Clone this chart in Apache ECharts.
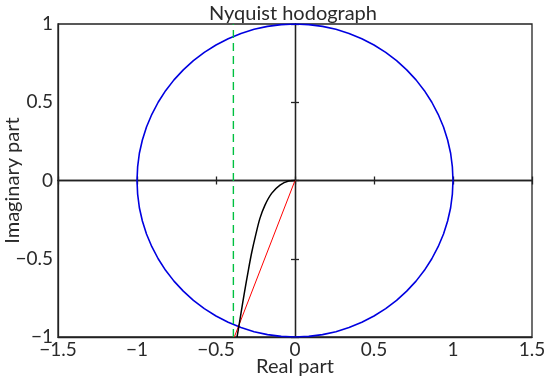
<!DOCTYPE html>
<html>
<head>
<meta charset="utf-8">
<script src="https://cdn.jsdelivr.net/npm/echarts@6/dist/echarts.min.js"></script>
<style>
html,body{margin:0;padding:0;background:#fff}
#chart{width:550px;height:379px}
</style>
</head>
<body>
<div id="chart"></div>
<script>
// axis ranges / ticks
var xTicks = [-1.5, -1, -0.5, 0, 0.5, 1, 1.5];
var yTicks = [-1, -0.5, 0, 0.5, 1];

// unit circle, read every 5 degrees
var circleRe = [1, .996, .985, .966, .94, .906, .866, .819, .766, .707, .643, .574, .5, .423, .342, .259, .174, .087, 0,
  -.087, -.174, -.259, -.342, -.423, -.5, -.574, -.643, -.707, -.766, -.819, -.866, -.906, -.94, -.966, -.985, -.996, -1,
  -.996, -.985, -.966, -.94, -.906, -.866, -.819, -.766, -.707, -.643, -.574, -.5, -.423, -.342, -.259, -.174, -.087, 0,
  .087, .174, .259, .342, .423, .5, .574, .643, .707, .766, .819, .866, .906, .94, .966, .985, .996, 1];
var circleIm = [0, .087, .174, .259, .342, .423, .5, .574, .643, .707, .766, .819, .866, .906, .94, .966, .985, .996, 1,
  .996, .985, .966, .94, .906, .866, .819, .766, .707, .643, .574, .5, .423, .342, .259, .174, .087, 0,
  -.087, -.174, -.259, -.342, -.423, -.5, -.574, -.643, -.707, -.766, -.819, -.866, -.906, -.94, -.966, -.985, -.996, -1,
  -.996, -.985, -.966, -.94, -.906, -.866, -.819, -.766, -.707, -.643, -.574, -.5, -.423, -.342, -.259, -.174, -.087, 0];

// nyquist curve (black)
var curveRe = [0, -0.04, -0.095, -0.148, -0.19, -0.222, -0.249, -0.274, -0.295, -0.321, -0.342, -0.359, -0.367];
var curveIm = [0, -0.003, -0.029, -0.082, -0.157, -0.242, -0.349, -0.46, -0.572, -0.721, -0.849, -0.955, -1];

// red ray and green dashed line
var rayRe = [0, -0.384];
var rayIm = [0, -1];
var vlineRe = [-0.39, -0.39];
var vlineIm = [-1, 1];

function pairs(a, b) { return a.map(function (v, i) { return [v, b[i]]; }); }
function fmt(v) { return String(v).replace('-', '\u2212'); }

var font = 'Lato';
var txt = '#2a2a2a';
var axCol = '#222';

function xAx(extra) {
  return Object.assign({
    type: 'value', min: xTicks[0], max: xTicks[xTicks.length - 1], interval: 0.5,
    position: 'bottom', splitLine: { show: false },
    axisLabel: { show: false }, axisTick: { show: false },
    axisLine: { onZero: false, lineStyle: { color: axCol, width: 1.3 } }
  }, extra);
}
function yAx(extra) {
  return Object.assign({
    type: 'value', min: yTicks[0], max: yTicks[yTicks.length - 1], interval: 0.5,
    position: 'left', splitLine: { show: false },
    axisLabel: { show: false }, axisTick: { show: false },
    axisLine: { onZero: false, lineStyle: { color: axCol, width: 1.3 } }
  }, extra);
}

var myChart = echarts.init(document.getElementById('chart'));
var option = {
  animation: false,
  title: {
    text: 'Nyquist hodograph', left: 288, textAlign: 'center', top: -1,
    textStyle: { fontFamily: font, fontSize: 20, fontWeight: 'normal', color: txt }
  },
  grid: {
    left: 58, right: 18, top: 24, bottom: 42,
    show: true, borderColor: axCol, borderWidth: 1.3,
    containLabel: false, outerBoundsMode: 'none'
  },
  xAxis: [
    xAx({
      axisLabel: { show: true, formatter: fmt, fontFamily: font, fontSize: 19, color: txt, margin: 3 },
      name: 'Real part', nameLocation: 'middle', nameGap: 20, nameMoveOverlap: false,
      nameTextStyle: { fontFamily: font, fontSize: 20, color: txt }
    }),
    xAx({
      axisLine: { onZero: true, onZeroAxisIndex: 0, lineStyle: { color: axCol, width: 1.3 } },
      axisTick: { show: true, inside: true, length: 4, lineStyle: { color: axCol, width: 1.3 } }
    }),
    xAx({
      axisLine: { onZero: true, onZeroAxisIndex: 0, lineStyle: { color: axCol, width: 1.3 } },
      axisTick: { show: true, inside: false, length: 4, lineStyle: { color: axCol, width: 1.3 } }
    })
  ],
  yAxis: [
    yAx({
      axisLabel: { show: true, formatter: fmt, fontFamily: font, fontSize: 19, color: txt, margin: 5 },
      name: 'Imaginary part', nameLocation: 'middle', nameGap: 35, nameRotate: 90, nameMoveOverlap: false,
      nameTextStyle: { fontFamily: font, fontSize: 20, color: txt }
    }),
    yAx({
      axisLine: { onZero: true, onZeroAxisIndex: 0, lineStyle: { color: axCol, width: 1.3 } },
      axisTick: { show: true, inside: true, length: 4, lineStyle: { color: axCol, width: 1.3 } }
    }),
    yAx({
      axisLine: { onZero: true, onZeroAxisIndex: 0, lineStyle: { color: axCol, width: 1.3 } },
      axisTick: { show: true, inside: false, length: 4, lineStyle: { color: axCol, width: 1.3 } }
    })
  ],
  series: [
    {
      name: 'circle', type: 'line', xAxisIndex: 0, yAxisIndex: 0,
      data: pairs(circleRe, circleIm), showSymbol: false, symbol: 'none',
      lineStyle: { color: '#0000e0', width: 1.6 }
    },
    {
      name: 'vline', type: 'line', xAxisIndex: 0, yAxisIndex: 0,
      data: pairs(vlineRe, vlineIm), symbol: 'none',
      lineStyle: { color: '#00c040', width: 1.4, type: [8, 5] }
    },
    {
      name: 'ray', type: 'line', xAxisIndex: 0, yAxisIndex: 0,
      data: pairs(rayRe, rayIm), symbol: 'none',
      lineStyle: { color: '#ff0000', width: 1 }
    },
    {
      name: 'nyquist', type: 'line', xAxisIndex: 0, yAxisIndex: 0,
      data: pairs(curveRe, curveIm), symbol: 'none', smooth: 0.3,
      lineStyle: { color: '#000', width: 1.5 }
    }
  ]
};
myChart.setOption(option);
</script>
</body>
</html>
